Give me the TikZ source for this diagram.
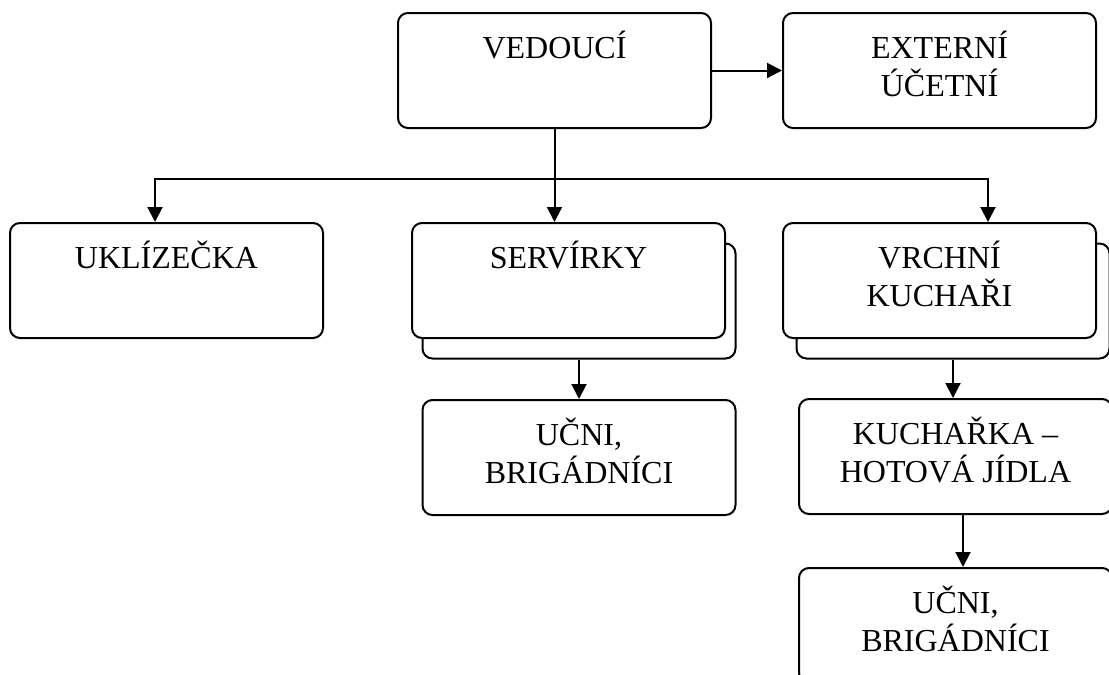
\documentclass[tikz,border=0pt]{standalone}
\usepackage{fontspec}
\setmainfont{Liberation Serif}
\usepackage{tikz}
\usetikzlibrary{arrows.meta}
\tikzstyle{box} = [rectangle, rounded corners=10pt, draw=black, line width=2pt, fill=white, inner sep=0pt, minimum width=313pt, minimum height=115pt, font=\fontsize{32}{38}\selectfont, execute at begin node={\begin{minipage}[c][115pt][t]{313pt}\centering\rule{0pt}{45pt}}, execute at end node={\end{minipage}}]
\tikzstyle{arrow} = [line width=2pt,-{Triangle[length=15pt,width=15pt]}]

\begin{document}
\begin{tikzpicture}[x=1pt, y=-1pt, line width=2pt]
    \tikzset{stack/.style = {draw, shape=rectangle, rounded corners=10pt, line width=2pt, fill=white, inner sep=0pt, minimum width=313pt, minimum height=115pt}}
\useasboundingbox (0,0) rectangle (1109,675);

% top row
\node (vedouci) [box] at (554.5,70.5) {VEDOUCÍ};
\node (externi) [box] at (939.5,70.5) {EXTERNÍ\\ÚČETNÍ};
\draw [arrow] (vedouci) -- (externi);

% second row, stacked boxes drawn behind
\node (servback) [stack] at (579,301) {};
\node (vrchback) [stack] at (953,301) {};
\node (uklizecka) [box] at (166.5,280.5) {UKLÍZEČKA};
\node (servirky) [box] at (568.5,280.5) {SERVÍRKY};
\node (vrchni) [box] at (939.5,280.5) {VRCHNÍ\\KUCHAŘI};

\coordinate (bus) at (554.5,179);
\draw (vedouci.south) -- (bus);
\draw [arrow] (bus) -| ([xshift=-11.5pt]uklizecka.north);
\draw [arrow] (bus) -| ([xshift=48.5pt]vrchni.north);
\draw [arrow] (vedouci.south) -- (vedouci.south |- servirky.north);

% lower rows
\node (ucni) [box] at (579,457.5) {UČNI,\\BRIGÁDNÍCI};
\node (kucharka) [box] at (955.5,456.5) {KUCHAŘKA –\\HOTOVÁ JÍDLA};
\node (Ucni) [box] at (955.5,625.5) {UČNI,\\BRIGÁDNÍCI};
\draw [arrow] (servback.south) -- (ucni.north);
\draw [arrow] (vrchback.south) -- (vrchback.south |- kucharka.north);
\draw [arrow] ([xshift=7.5pt]kucharka.south) -- ([xshift=7.5pt]kucharka.south |- Ucni.north);

\end{tikzpicture}
\end{document}
